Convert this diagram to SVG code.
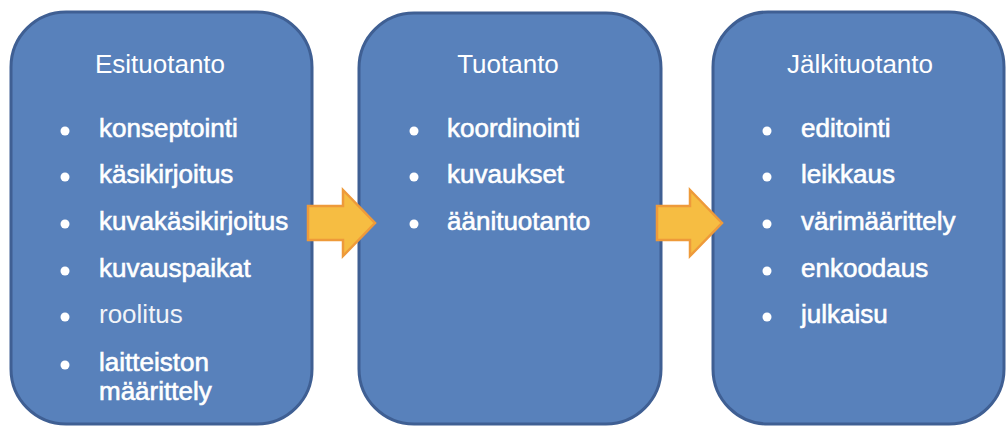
<svg xmlns="http://www.w3.org/2000/svg" width="1006" height="426" viewBox="0 0 1006 426">
<style>
.box{fill:#5881bb;stroke:#3f5f93;stroke-width:3}
.h{font-family:"Liberation Sans",Arial,sans-serif;font-size:26px;fill:#fff;text-anchor:middle}
.t{font-family:"Liberation Sans",Arial,sans-serif;font-size:26px;fill:#fff;stroke:#fff;stroke-width:0.6}
.n{stroke:none;fill:#f2f4f8}
.b{fill:#fff}
.arr{fill:#f6bd42;stroke:#ee9a3a;stroke-width:2.5;stroke-linejoin:miter}
</style>
<rect width="1006" height="426" fill="#fff"/>
<g id="esituotanto">
<rect class="box" x="11" y="12" width="301" height="412" rx="55" ry="55"/>
<text class="h" x="160" y="73">Esituotanto</text>
<circle class="b" cx="65" cy="131" r="4.5"/>
<text class="t" x="99" y="137">konseptointi</text>
<circle class="b" cx="65" cy="177" r="4.5"/>
<text class="t" x="99" y="183">käsikirjoitus</text>
<circle class="b" cx="65" cy="224" r="4.5"/>
<text class="t" x="99" y="230">kuvakäsikirjoitus</text>
<circle class="b" cx="65" cy="271" r="4.5"/>
<text class="t" x="99" y="277">kuvauspaikat</text>
<circle class="b" cx="65" cy="317" r="4.5"/>
<text class="t n" x="99" y="323">roolitus</text>
<circle class="b" cx="65" cy="365" r="4.5"/>
<text class="t" x="99" y="371">laitteiston</text>
<text class="t" x="99" y="400">määrittely</text>
</g>
<g id="tuotanto">
<rect class="box" x="359" y="13" width="302" height="411" rx="55" ry="55"/>
<text class="h" x="508" y="73">Tuotanto</text>
<circle class="b" cx="414" cy="131" r="4.5"/>
<text class="t" x="447" y="137">koordinointi</text>
<circle class="b" cx="414" cy="177" r="4.5"/>
<text class="t" x="447" y="183">kuvaukset</text>
<circle class="b" cx="414" cy="224" r="4.5"/>
<text class="t" x="447" y="230">äänituotanto</text>
</g>
<g id="jalkituotanto">
<rect class="box" x="713" y="12" width="291" height="412" rx="55" ry="55"/>
<text class="h" x="860" y="73">Jälkituotanto</text>
<circle class="b" cx="767" cy="131" r="4.5"/>
<text class="t" x="801" y="137">editointi</text>
<circle class="b" cx="767" cy="177" r="4.5"/>
<text class="t" x="801" y="183">leikkaus</text>
<circle class="b" cx="767" cy="224" r="4.5"/>
<text class="t" x="801" y="230">värimäärittely</text>
<circle class="b" cx="767" cy="271" r="4.5"/>
<text class="t" x="801" y="277">enkoodaus</text>
<circle class="b" cx="767" cy="317" r="4.5"/>
<text class="t" x="801" y="323">julkaisu</text>
</g>
<g id="connectors">
<path class="arr" d="M308,206 H343 V190 L375,223 L343,256 V240 H308 Z"/>
<path class="arr" d="M657,206 H690 V190 L722,223 L690,256 V240 H657 Z"/>
</g>
</svg>
